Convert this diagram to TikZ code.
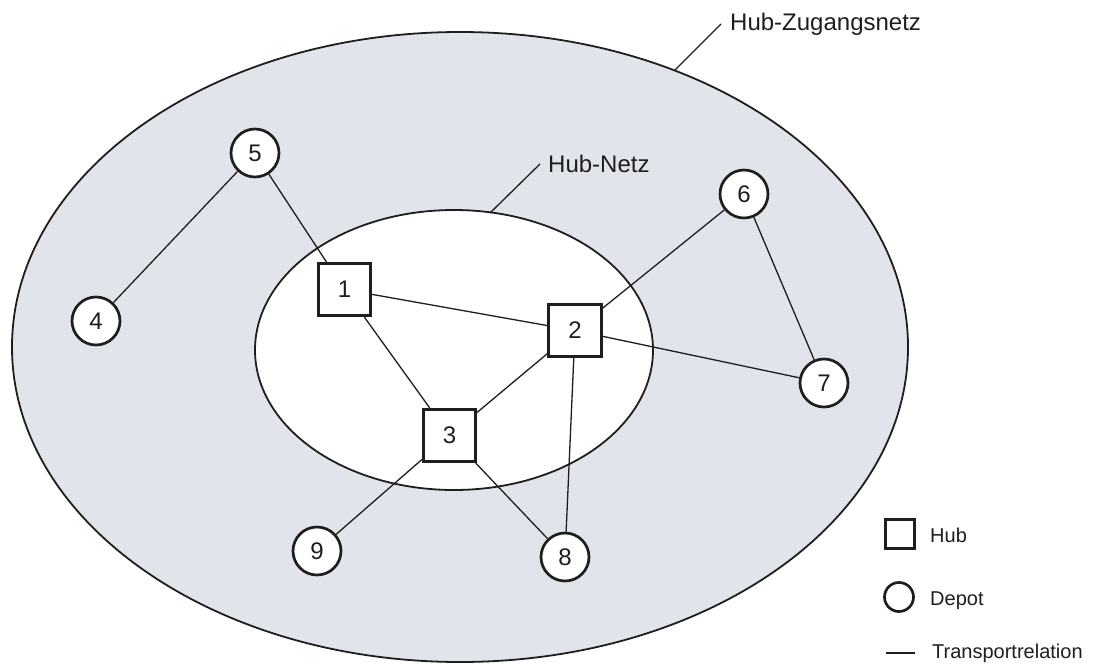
\documentclass[tikz,border=0pt]{standalone}
\usepackage{fontspec}
\setmainfont{Liberation Sans}
\definecolor{netgray}{RGB}{225,228,234}
\definecolor{ink}{RGB}{30,30,30}
\begin{document}
\begin{tikzpicture}[x=1pt,y=-1pt,
  hubbox/.style={draw=ink,line width=2.7pt,fill=white,rectangle,minimum size=52.5pt,inner sep=0pt,font=\fontsize{24}{24}\selectfont,text=ink},
  depotnode/.style={draw=ink,line width=2.7pt,fill=white,circle,minimum size=48pt,inner sep=0pt,font=\fontsize{24}{24}\selectfont,text=ink},
  relation/.style={draw=ink,line width=1.3pt},
  zone/.style={draw=ink,line width=1.8pt},
  label/.style={inner sep=0pt,anchor=base west,font=\fontsize{24}{28}\selectfont,text=ink},
  legendtext/.style={inner sep=0pt,anchor=base west,font=\fontsize{20}{24}\selectfont,text=ink}]
\useasboundingbox (0,0) rectangle (1093,664);

% access network and hub network
\draw[zone,fill=netgray] (460,347) ellipse [x radius=448, y radius=315];
\draw[zone,fill=white] (454,350) ellipse [x radius=199, y radius=140];

% zone labels with leader lines
\node[label] (lblouter) at (730,30) {Hub-Zugangsnetz};
\node[label] (lblinner) at (548,172) {Hub-Netz};
\coordinate (outerA) at (721,24);
\coordinate (outerB) at (675,70);
\coordinate (innerA) at (540,164);
\coordinate (innerB) at (490,213);
\draw[relation] (outerA) -- (outerB);
\draw[relation] (innerA) -- (innerB);

% hubs
\node[hubbox] (h1) at (344.5,289.5) {1};
\node[hubbox] (h2) at (575,330.5) {2};
\node[hubbox] (h3) at (449.5,435.5) {3};

% depots
\node[depotnode] (d4) at (96,321) {4};
\node[depotnode] (d5) at (255,153) {5};
\node[depotnode] (d6) at (744,194) {6};
\node[depotnode] (d7) at (824,383) {7};
\node[depotnode] (d8) at (565,557) {8};
\node[depotnode] (d9) at (317,551) {9};

% transport relations
\draw[relation] (d5) -- (h1);
\draw[relation] (d5) -- (d4);
\draw[relation] (h1) -- (h2);
\draw[relation] (h1) -- (h3);
\draw[relation] (h2) -- (h3);
\draw[relation] (h2) -- (d6);
\draw[relation] (h2) -- (d7);
\draw[relation] (h2) -- (d8);
\draw[relation] (h3) -- (d8);
\draw[relation] (h3) -- (d9);
\draw[relation] (d6) -- (d7);

% legend
\node[draw=ink,line width=2.7pt,rectangle,minimum size=29.5pt,inner sep=0pt] (lghub) at (900,534) {};
\node[legendtext] (lghubtxt) at (930,542) {Hub};
\node[draw=ink,line width=2.7pt,circle,minimum size=29pt,inner sep=0pt] (lgdepot) at (899,597) {};
\node[legendtext] (lgdepottxt) at (930,605) {Depot};
\coordinate (lgA) at (886,653);
\coordinate (lgB) at (915,653);
\draw[relation] (lgA) -- (lgB);
\node[legendtext] (lgreltxt) at (932,658) {Transportrelation};
\end{tikzpicture}
\end{document}
